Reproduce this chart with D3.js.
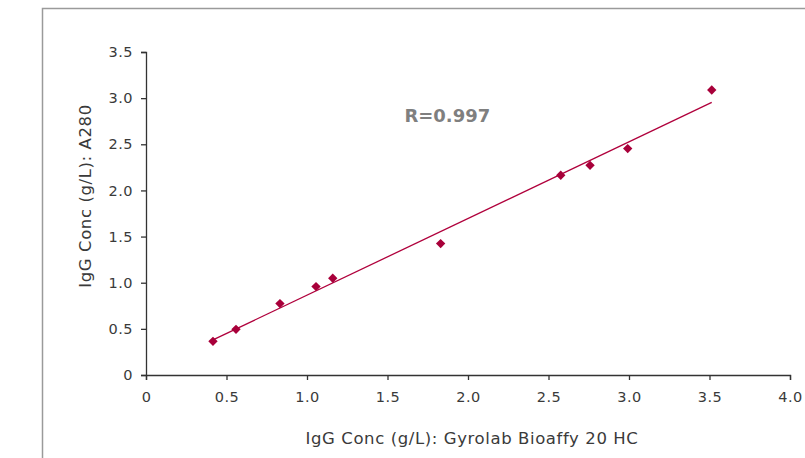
<!DOCTYPE html>
<html>
<head>
<meta charset="utf-8">
<script src="https://cdn.jsdelivr.net/npm/d3@7"></script>
<style>
  body { margin: 0; background: #fff; }
  text { font-family: "DejaVu Sans", sans-serif; fill: #3a3a3a; }
</style>
</head>
<body>
<div id="chart"></div>
<script>
"use strict";

// values
var gyrolab = [0.416, 0.559, 0.832, 1.056, 1.160, 1.830, 2.576, 2.758, 2.992, 3.514];
var a280 = [0.365, 0.495, 0.774, 0.958, 1.048, 1.424, 2.164, 2.272, 2.453, 3.088];
var xTicks = [0, 0.5, 1.0, 1.5, 2.0, 2.5, 3.0, 3.5, 4.0];
var yTicks = [0, 0.5, 1.0, 1.5, 2.0, 2.5, 3.0, 3.5];
var rLabel = "R=0.997";

var W = 805, H = 458;
var margin = { top: 52, right: 15, bottom: 83, left: 146 },
        width = W - margin.left - margin.right,
        height = H - margin.top - margin.bottom;

var svg = d3.select("#chart")
        .append("svg")
        .attr("width", W)
        .attr("height", H);

// outer frame (runs off the right and bottom edges)
svg.append("rect")
        .attr("x", 42.5).attr("y", 8.5)
        .attr("width", W).attr("height", H)
        .attr("fill", "none")
        .attr("stroke", "#9a9a9a")
        .attr("stroke-width", 1.5);

var g = svg.append("g")
        .attr("transform", "translate(" + margin.left + "," + margin.top + ")");

var x = d3.scaleLinear().domain([0, 4]).range([0, 644]);
var y = d3.scaleLinear().domain([0, 3.5]).range([323, 0]);

function fmt(d) { return d == 0 ? "0" : d3.format(".1f")(d); }

// X axis
var xAxis = g.append("g")
        .attr("transform", "translate(0," + 323 + ")")
        .call(d3.axisBottom(x).tickValues(xTicks).tickFormat(fmt).tickSizeOuter(0).tickSize(5).tickPadding(12));
// Y axis
var yAxis = g.append("g")
        .call(d3.axisLeft(y).tickValues(yTicks).tickFormat(fmt).tickSizeOuter(0).tickSize(5).tickPadding(8));

[xAxis, yAxis].forEach(function (ax) {
        ax.attr("font-size", null).attr("font-family", null);
        ax.select(".domain").attr("stroke", "#333").attr("stroke-width", 1.3);
        ax.selectAll(".tick line").attr("stroke", "#333").attr("stroke-width", 1.3);
        ax.selectAll(".tick text")
                .style("font-family", "DejaVu Sans, sans-serif")
                .style("font-size", "14.5px")
                .style("letter-spacing", "0.5px")
                .attr("fill", "#3a3a3a");
});

// axis titles
g.append("text")
        .attr("x", 326).attr("y", 392)
        .attr("text-anchor", "middle")
        .style("font-size", "16.5px")
        .style("letter-spacing", "0.6px")
        .text("IgG Conc (g/L): Gyrolab Bioaffy 20 HC");

g.append("text")
        .attr("transform", "translate(" + (-55) + "," + 144 + ")rotate(-90)")
        .attr("text-anchor", "middle")
        .style("font-size", "16.5px")
        .style("letter-spacing", "0.6px")
        .text("IgG Conc (g/L): A280");

// least squares trend line
var n = gyrolab.length;
var mx = d3.mean(gyrolab), my = d3.mean(a280);
var sxy = 0, sxx = 0;
for (var i = 0; i < n; i++) {
        sxy += (gyrolab[i] - mx) * (a280[i] - my);
        sxx += (gyrolab[i] - mx) * (gyrolab[i] - mx);
}
var slope = sxy / sxx, intercept = my - slope * mx;
var x0 = d3.min(gyrolab), x1 = d3.max(gyrolab);

g.append("line")
        .attr("x1", x(x0)).attr("y1", y(intercept + slope * x0))
        .attr("x2", x(x1)).attr("y2", y(intercept + slope * x1))
        .attr("stroke", "#b0003c")
        .attr("stroke-width", 1.3);

// points
var pts = gyrolab.map(function (d, i) { return { gx: d, ay: a280[i] }; });
g.selectAll("mypoint")
        .data(pts)
        .enter()
        .append("path")
        .attr("d", d3.symbol().type(d3.symbolDiamond2).size(56))
        .attr("transform", function (d) { return "translate(" + x(d.gx) + "," + y(d.ay) + ")"; })
        .attr("fill", "#a8003a");

// R label
g.append("text")
        .attr("x", x(1.605)).attr("y", y(2.78) + 4)
        .style("font-size", "18px")
        .style("font-weight", "bold")
        .style("fill", "#7f7f7f")
        .text(rLabel);
</script>
</body>
</html>
